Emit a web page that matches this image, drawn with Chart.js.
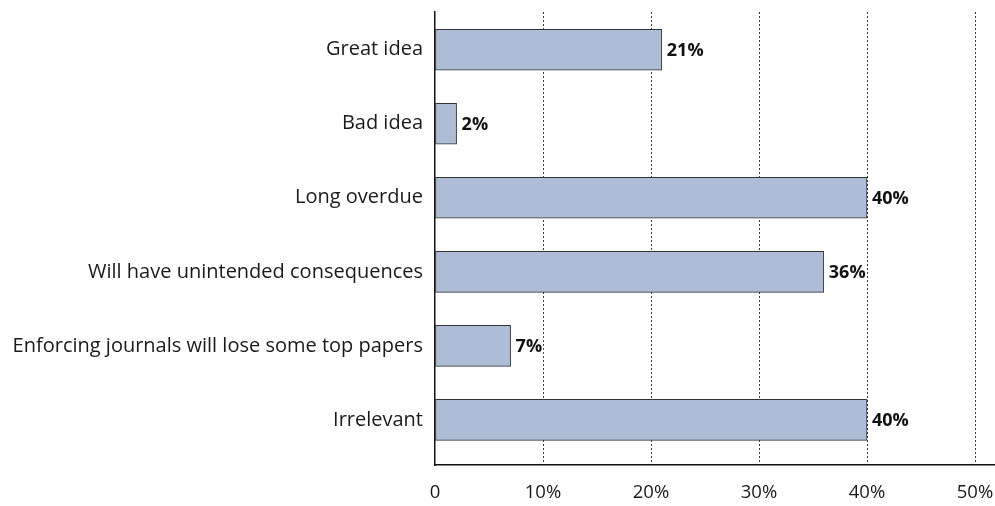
<!DOCTYPE html>
<html>
<head>
<meta charset="utf-8">
<script src="https://cdn.jsdelivr.net/npm/chart.js@4.4.0/dist/chart.umd.min.js"></script>
<style>
  html, body { margin: 0; padding: 0; background: #fff; }
  #wrap { width: 995px; height: 506px; position: relative; }
</style>
</head>
<body>
<div id="wrap"><canvas id="c" width="995" height="506"></canvas></div>
<script>
// Survey responses (percent of respondents)
const categories = [
  'Great idea',
  'Bad idea',
  'Long overdue',
  'Will have unintended consequences',
  'Enforcing journals will lose some top papers',
  'Irrelevant'
];
const values = [21, 2, 40, 36, 7, 40];
const xTicks = [0, 10, 20, 30, 40, 50];

const FONT = '"Open Sans", "Noto Sans", sans-serif';

// Writes the percentage just past the end of each bar, on a white backing
const valueLabels = {
  id: 'valueLabels',
  afterDatasetsDraw(chart) {
    const ctx = chart.ctx;
    const meta = chart.getDatasetMeta(0);
    ctx.save();
    ctx.font = 'bold 18px ' + FONT;
    ctx.textAlign = 'left';
    ctx.textBaseline = 'middle';
    meta.data.forEach((bar, i) => {
      const txt = values[i] + '%';
      const w = ctx.measureText(txt).width;
      const x = bar.x + 5;
      ctx.fillStyle = '#fff';
      ctx.fillRect(x - 1, bar.y - 11, w + 2, 22);
      ctx.fillStyle = '#111';
      ctx.fillText(txt, x, bar.y + 1);
    });
    ctx.restore();
  }
};

new Chart(document.getElementById('c'), {
  type: 'bar',
  data: {
    datasets: [{
      data: values.map((v, i) => ({ x: v, y: i })),
      backgroundColor: '#adbdd5',
      borderColor: '#333',
      borderWidth: 1,
      borderSkipped: false,
      barThickness: 41
    }]
  },
  options: {
    indexAxis: 'y',
    responsive: false,
    animation: false,
    layout: { padding: { top: 12, right: 0, bottom: 0, left: 0 } },
    plugins: { legend: { display: false }, tooltip: { enabled: false } },
    scales: {
      x: {
        type: 'linear',
        bounds: 'data',
        min: 0,
        max: 51.85,
        afterBuildTicks: s => { s.ticks = xTicks.map(v => ({ value: v })); },
        afterFit: s => { s.height = 41; s.paddingLeft = 0; s.paddingRight = 0; },
        ticks: {
          callback: v => v === 0 ? '0' : v + '%',
          font: { family: FONT, size: 18.5 },
          color: '#1a1a1a',
          padding: 17,
          maxRotation: 0
        },
        grid: {
          drawTicks: false,
          color: ctx => ctx.tick && ctx.tick.value === 0 ? 'rgba(0,0,0,0)' : '#3a3a3a',
          lineWidth: 1
        },
        border: { display: true, color: '#111', width: 1.5, dash: [2, 2] }
      },
      y: {
        type: 'linear',
        bounds: 'data',
        offset: false,
        reverse: true,
        min: -0.51,
        max: 5.61,
        afterBuildTicks: s => { s.ticks = categories.map((c, i) => ({ value: i })); },
        afterFit: s => { s.width = 435; s.paddingTop = 0; s.paddingBottom = 0; },
        ticks: {
          callback: v => categories[v],
          font: { family: FONT, size: 20 },
          color: '#1a1a1a',
          padding: 12
        },
        grid: { display: false, drawTicks: false, offset: false },
        border: { display: true, color: '#111', width: 1.5 }
      }
    }
  },
  plugins: [valueLabels]
});
</script>
</body>
</html>
